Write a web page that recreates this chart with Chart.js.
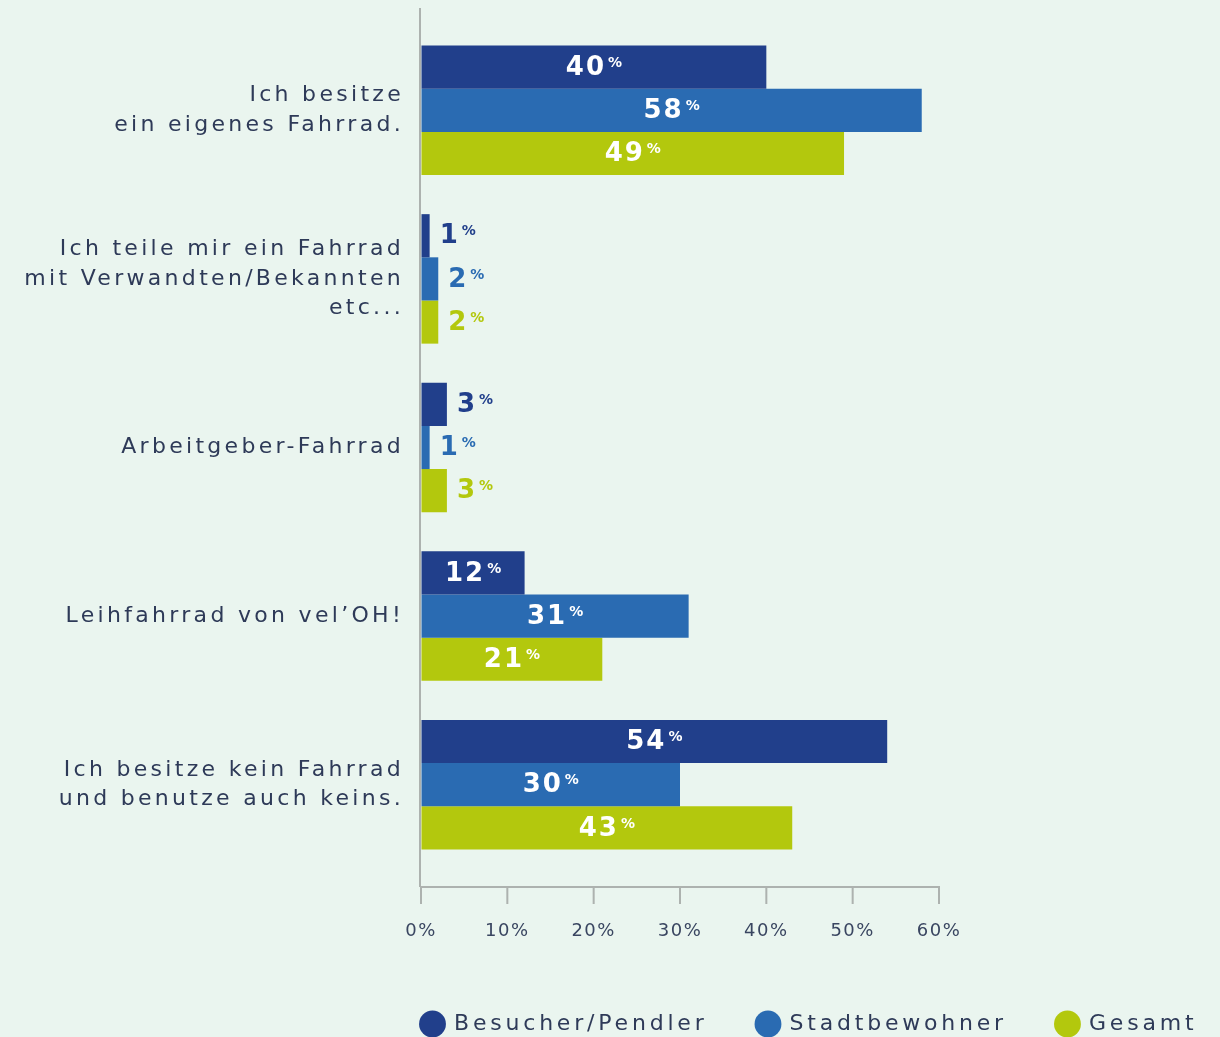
<!DOCTYPE html>
<html><head><meta charset="utf-8">
<script src="https://cdn.jsdelivr.net/npm/chart.js@4.4.1/dist/chart.umd.min.js"></script>
<style>
html,body{margin:0;padding:0;background:#eaf5ef;overflow:hidden;}
#wrap{width:1220px;height:1037px;overflow:hidden;position:relative;background:#eaf5ef;}
canvas{display:block;}
</style></head><body>
<div id="wrap"><canvas id="c" width="1300" height="1045"></canvas></div>
<script>
// ---- data ----
const categories = [
  ['Ich besitze', 'ein eigenes Fahrrad.'],
  ['Ich teile mir ein Fahrrad', 'mit Verwandten/Bekannten', 'etc...'],
  'Arbeitgeber-Fahrrad',
  'Leihfahrrad von vel\u2019OH!',
  ['Ich besitze kein Fahrrad', 'und benutze auch keins.']
];
const seriesNames = ['Besucher/Pendler', 'Stadtbewohner', 'Gesamt'];
const besucherPendler = [40, 1, 3, 12, 54];
const stadtbewohner = [58, 2, 1, 31, 30];
const gesamt = [49, 2, 3, 21, 43];
const xTickLabels = ['0%', '10%', '20%', '30%', '40%', '50%', '60%'];

// ---- styles ----
const NAVY = '#213f8b', BLUE = '#2a6bb2', GREEN = '#b3c80d';
const TEXT = '#2e3a58', AXIS = '#adb2af';
const FAMILY = '"DejaVu Sans", sans-serif';
Chart.defaults.font.family = FAMILY;

function wrapSpacing(obj, name, sp) {
  if (!obj || obj['__w_' + name]) return;
  const orig = obj[name];
  obj[name] = function (...a) {
    const c = this.ctx;
    const prev = c.letterSpacing;
    c.letterSpacing = sp;
    try { return orig.apply(this, a); } finally { c.letterSpacing = prev; }
  };
  obj['__w_' + name] = true;
}

const spacingPlugin = {
  id: 'spacing',
  beforeLayout(chart) {
    wrapSpacing(chart.legend, 'fit', '3.8px');
    wrapSpacing(chart.legend, 'draw', '3.8px');
  },
  afterLayout(chart) {
    const y = chart.scales.y;
    // let the category labels extend to the left of the (narrow) axis box
    y._computeLabelArea = () => undefined;
    wrapSpacing(y, 'drawLabels', '3.3px');
    wrapSpacing(chart.scales.x, 'drawLabels', '1.5px');
  }
};

const axisPlugin = {
  id: 'axisLines',
  beforeDatasetsDraw(chart) {
    const ctx = chart.ctx, xs = chart.scales.x, ca = chart.chartArea;
    const x0 = xs.getPixelForValue(xs.min), x1 = xs.getPixelForValue(xs.max);
    const top = ca.top - 18, base = ca.bottom + 18, tickEnd = base + 17;
    ctx.save();
    ctx.strokeStyle = AXIS; ctx.lineWidth = 2;
    ctx.beginPath();
    ctx.moveTo(x0 - 1, top); ctx.lineTo(x0 - 1, base);
    ctx.moveTo(x0 - 1, base); ctx.lineTo(x1 + 1, base);
    xs.ticks.forEach(t => {
      const px = xs.getPixelForValue(t.value);
      ctx.moveTo(px, base); ctx.lineTo(px, tickEnd);
    });
    ctx.stroke();
    ctx.restore();
  }
};

const valuePlugin = {
  id: 'values',
  afterDatasetsDraw(chart) {
    const ctx = chart.ctx;
    chart.data.datasets.forEach((ds, di) => {
      const meta = chart.getDatasetMeta(di);
      meta.data.forEach((bar, i) => {
        const v = ds.data[i];
        const num = String(v);
        ctx.save();
        ctx.textAlign = 'left';
        ctx.textBaseline = 'middle';
        ctx.letterSpacing = '2px';
        ctx.font = 'bold 26px ' + FAMILY;
        const wNum = ctx.measureText(num).width;
        ctx.letterSpacing = '0px';
        ctx.font = 'bold 14px ' + FAMILY;
        const wPct = ctx.measureText('%').width;
        const gap = 2;
        const total = wNum + gap + wPct;
        let x0, color;
        if (v >= 10) {
          x0 = (bar.base + bar.x) / 2 - total / 2;
          color = '#ffffff';
        } else {
          x0 = bar.x + 10;
          color = ds.backgroundColor;
        }
        ctx.fillStyle = color;
        ctx.letterSpacing = '2px';
        ctx.font = 'bold 26px ' + FAMILY;
        ctx.fillText(num, x0, bar.y + 1);
        ctx.letterSpacing = '0px';
        ctx.font = 'bold 14px ' + FAMILY;
        ctx.fillText('%', x0 + wNum + gap, bar.y - 4);
        ctx.restore();
      });
    });
  }
};

const canvas = document.getElementById('c');
new Chart(canvas, {
  type: 'bar',
  data: {
    labels: categories,
    datasets: [
      { label: seriesNames[0], data: besucherPendler, backgroundColor: NAVY },
      { label: seriesNames[1], data: stadtbewohner, backgroundColor: BLUE },
      { label: seriesNames[2], data: gesamt, backgroundColor: GREEN }
    ]
  },
  options: {
    indexAxis: 'y',
    responsive: false,
    animation: false,
    devicePixelRatio: 1,
    layout: { padding: { left: 372, top: 26, right: 0, bottom: 0 } },
    datasets: { bar: { categoryPercentage: 0.768, barPercentage: 1.0, borderWidth: 0 } },
    scales: {
      x: {
        type: 'linear', min: 0, max: 60,
        ticks: {
          stepSize: 10, autoSkip: false, maxRotation: 0, padding: 12,
          color: '#3a4661', font: { size: 18 },
          callback: (v, i) => xTickLabels[i]
        },
        grid: { display: true, drawOnChartArea: false, drawTicks: true, tickLength: 40, tickColor: 'rgba(0,0,0,0)' },
        border: { display: false },
        afterFit(s) { s.height = 94; }
      },
      y: {
        type: 'category',
        ticks: { padding: 17, color: TEXT, autoSkip: false, font: { size: 22, lineHeight: 1.35 } },
        grid: { display: false, drawTicks: false },
        border: { display: false },
        afterFit(s) { s.width = 49; s.paddingTop = 0; s.paddingBottom = 0; }
      },
      y2: {
        type: 'category', position: 'right', labels: [''],
        ticks: { display: false },
        grid: { display: false, drawTicks: false },
        border: { display: false },
        afterFit(s) { s.width = 361; s.paddingTop = 0; s.paddingBottom = 0; }
      }
    },
    plugins: {
      legend: {
        position: 'bottom', align: 'start',
        labels: {
          usePointStyle: true, pointStyle: 'circle',
          boxWidth: 21, boxHeight: 19, padding: 50,
          color: TEXT, font: { size: 22 }
        }
      },
      tooltip: { enabled: false }
    }
  },
  plugins: [spacingPlugin, axisPlugin, valuePlugin]
});
</script>
</body></html>
